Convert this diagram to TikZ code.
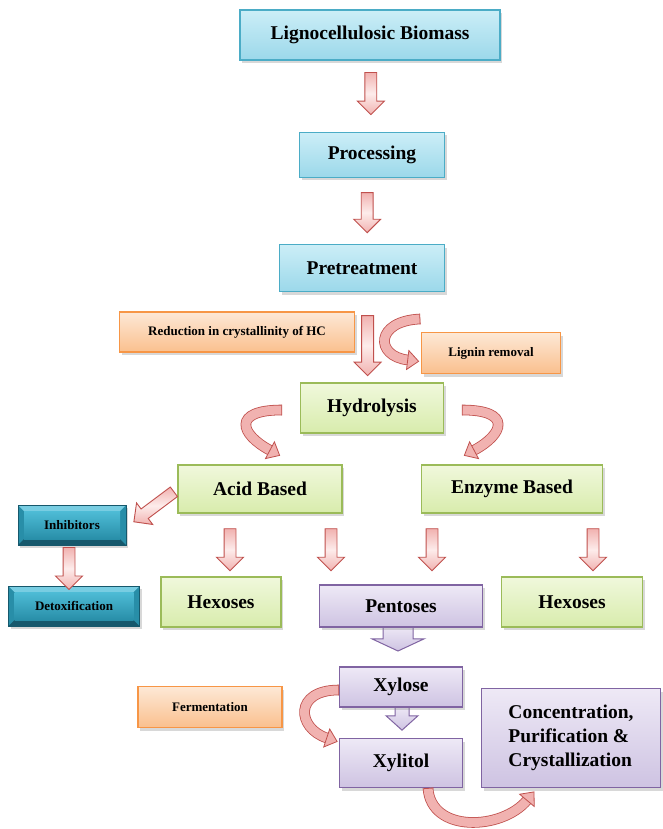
\documentclass[tikz,border=0pt]{standalone}
\usepackage{fontspec}
\setmainfont{Liberation Serif}
\usetikzlibrary{shapes.arrows,shadows,calc,decorations.markings}

\definecolor{cyanfill}{RGB}{204,238,247}
\definecolor{cyanfillb}{RGB}{155,216,234}
\definecolor{cyanline}{RGB}{75,172,198}
\definecolor{greenfill}{RGB}{240,248,220}
\definecolor{greenfillb}{RGB}{216,236,172}
\definecolor{greenline}{RGB}{155,187,89}
\definecolor{orangefill}{RGB}{253,232,214}
\definecolor{orangefillb}{RGB}{250,192,142}
\definecolor{orangeline}{RGB}{247,150,70}
\definecolor{purplefill}{RGB}{238,233,246}
\definecolor{purplefillb}{RGB}{206,195,226}
\definecolor{purpleline}{RGB}{128,100,162}
\definecolor{tealdark}{RGB}{22,88,108}
\definecolor{teallight}{RGB}{120,205,226}
\definecolor{tealtop}{RGB}{78,188,214}
\definecolor{tealbot}{RGB}{40,142,168}
\definecolor{arrowred}{RGB}{192,80,77}
\definecolor{arrowpink}{RGB}{241,178,176}
\definecolor{arrowpale}{RGB}{253,236,235}

\begin{document}
\begin{tikzpicture}[x=1pt,y=-1pt,
	box/.style={draw,line width=1.5pt,inner sep=0pt,font=\fontsize{19.5}{24}\selectfont\bfseries,
		drop shadow={shadow xshift=2pt,shadow yshift=-3pt,opacity=.3}},
	smallbox/.style={box,font=\fontsize{13}{15}\selectfont\bfseries},
	cyanbox/.style={box,draw=cyanline,top color=cyanfill,bottom color=cyanfillb},
	greenbox/.style={box,draw=greenline,top color=greenfill,bottom color=greenfillb},
	purplebox/.style={box,draw=purpleline,top color=purplefill,bottom color=purplefillb},
	orangebox/.style={smallbox,draw=orangeline,top color=orangefill,bottom color=orangefillb},
	tealbox/.style={smallbox,draw=tealdark,line width=.8pt,fill=tealbot,
		path picture={
			\fill[teallight] (path picture bounding box.north west) -- (path picture bounding box.north east)
				-- ([xshift=-6pt,yshift=-6pt]path picture bounding box.north east) -- ([xshift=6pt,yshift=-6pt]path picture bounding box.north west) -- cycle;
			\fill[tealdark] (path picture bounding box.south west) -- (path picture bounding box.south east)
				-- ([xshift=-6pt,yshift=6pt]path picture bounding box.south east) -- ([xshift=6pt,yshift=6pt]path picture bounding box.south west) -- cycle;
			\shade[top color=tealtop,bottom color=tealbot] ([xshift=6pt,yshift=-6pt]path picture bounding box.north west) rectangle ([xshift=-6pt,yshift=6pt]path picture bounding box.south east);
		}},
	downarr/.style={single arrow,rotate=-90,draw=arrowred,line width=.9pt,inner xsep=0pt,inner ysep=5.5pt,
		single arrow head extend=7.5pt,minimum height=#1,top color=arrowpink,bottom color=arrowpink,middle color=arrowpale},
	purplearr/.style={single arrow,rotate=-90,draw=purpleline,line width=1pt,inner xsep=0pt,
		minimum height=#1,top color=purplefill,bottom color=purplefillb},
	curvarr/.style={
		postaction={draw=arrowred,line width=.8pt,double=arrowpink,double distance=9pt},
		postaction={decorate,decoration={markings,
			mark=at position 0.001 with {\draw[arrowred,line width=.8pt] (0pt,-5.3pt) -- (0pt,5.3pt);},
			mark=at position 0.999 with {\draw[arrowred,line width=.8pt,fill=arrowpink] (0pt,-9.5pt) -- (11pt,0pt) -- (0pt,9.5pt) -- cycle;}}}}
	]
	\useasboundingbox (0,0) rectangle (662,829);
	\fill[white] (0,0) rectangle (662,829);

	% main line
	\node[cyanbox,minimum width=260pt,minimum height=50pt] (bio) at (370,35) {Lignocellulosic Biomass};
	\node[cyanbox,minimum width=145pt,minimum height=45pt] (proc) at (372,155) {Processing};
	\node[cyanbox,minimum width=165pt,minimum height=47pt] (pre) at (362,268) {Pretreatment};
	\node[orangebox,minimum width=235pt,minimum height=40pt] (red) at (237,332) {Reduction in crystallinity of HC};
	\node[orangebox,minimum width=139pt,minimum height=41pt] (lig) at (491,353) {Lignin removal};
	\node[greenbox,minimum width=143pt,minimum height=50pt] (hyd) at (372,408) {Hydrolysis};

	\node[downarr=42pt] (ar1) at ($(bio.south)!.42!(proc.north)$) {};
	\node[downarr=40pt] (ar2) at ($(proc.south)!.48!(pre.north)$) {};
	\node[downarr=60pt] (ar3) at ($(pre.south)!.56!(hyd.north)$) {};

	% lignin removal
	\coordinate (ligs) at (420,319);
	\path[curvarr] (ligs) .. controls +(-45,2) and +(-33,-4) .. ($(lig.west)+(-13,7)$);

	% two routes
	\node[greenbox,minimum width=164pt,minimum height=48pt] (acid) at (260,489) {Acid Based};
	\node[greenbox,minimum width=181pt,minimum height=48pt] (enz) at (512,489) {Enzyme Based};
	\path[curvarr] ($(hyd.west)+(-18,2)$) .. controls +(-50,0) and +(-30,-16) .. ($(acid.north)+(10,-14)$);
	\path[curvarr] ($(hyd.east)+(18,2)$) .. controls +(50,0) and +(30,-16) .. ($(enz.north)+(-38,-14)$);

	\node[tealbox,minimum width=108pt,minimum height=40pt] (inh) at (72,525) {Inhibitors};
	\node[tealbox,minimum width=131pt,minimum height=40pt] (detox) at (74,606) {Detoxification};
	\node[downarr=50pt,rotate=-53.13] (ar9) at ($(acid.west)+(-21,16)$) {};
	\node[downarr=42pt] (ar6) at ($(inh.south)!.5!(detox.north)+(-4,0)$) {};

	\node[greenbox,minimum width=120pt,minimum height=50pt] (hexl) at (221,602) {Hexoses};
	\node[purplearr=25pt,inner ysep=14.5pt,single arrow head extend=11pt,single arrow tip angle=130] (parr) at (398,635) {};
	\node[purplebox,minimum width=163pt,minimum height=42pt] (pent) at (401,606) {Pentoses};
	\node[greenbox,minimum width=141pt,minimum height=50pt] (hexr) at (572,602) {Hexoses};

	\node[downarr=42pt] (ar4) at ($(acid.south)+(-30,33)$) {};
	\node[downarr=42pt] (ar5) at ($(acid.south)+(71,33)$) {};
	\node[downarr=42pt] (ar7) at ($(enz.south)+(-80,33)$) {};
	\node[downarr=42pt] (ar8) at ($(enz.south)+(81,33)$) {};

	% xylitol
	\node[purplearr=24pt,inner ysep=6.5pt,single arrow head extend=9pt,single arrow tip angle=96] (xarr) at (402,715) {};
	\node[purplebox,minimum width=123pt,minimum height=40pt] (xyl) at (401,687) {Xylose};
	\node[purplebox,minimum width=123pt,minimum height=49pt] (xyt) at (401,763) {Xylitol};
	\node[orangebox,minimum width=144pt,minimum height=41pt] (ferm) at (210,707) {Fermentation};
	\node[purplebox,minimum width=179pt,minimum height=99pt,align=left] (conc) at (571,738) {Concentration,\\Purification \&\\Crystallization};

	\path[curvarr] ($(xyl.west)+(0,3)$) .. controls +(-45,0) and +(-30,-10) .. ($(xyt.west)+(-12,-25)$);
	\path[curvarr] ($(xyt.south)+(27,0)$) .. controls +(3,45) and +(-25,30) .. ($(conc.south)+(-44,12)$);
\end{tikzpicture}
\end{document}
